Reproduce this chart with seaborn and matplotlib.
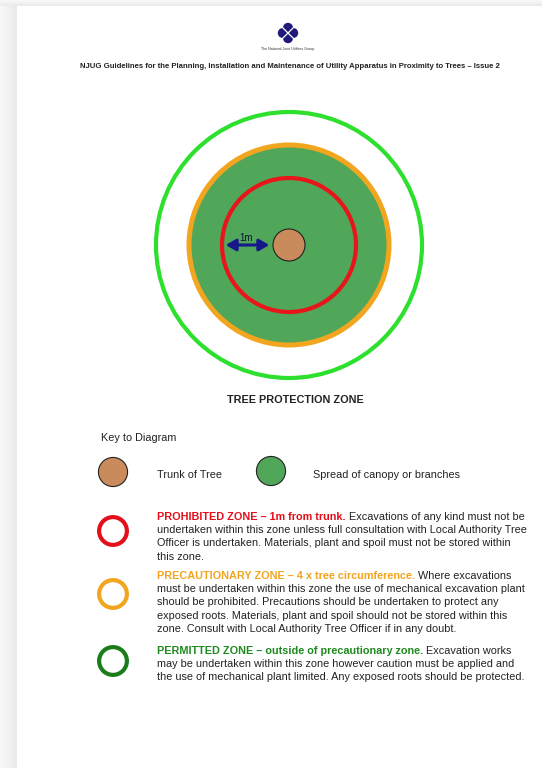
import numpy as np
import matplotlib
matplotlib.use("Agg")
import matplotlib.pyplot as plt
from matplotlib.patches import Circle, Rectangle, FancyArrowPatch
import seaborn as sns
import pandas as pd

sns.set_theme(style="white")
plt.rcParams['font.family'] = ['Liberation Sans', 'DejaVu Sans']

# ---- data ----
header_title = ("NJUG Guidelines for the Planning, Installation and Maintenance of "
                "Utility Apparatus in Proximity to Trees \u2013 Issue 2")
logo_caption = "The National Joint Utilities Group"
diagram_title = "TREE PROTECTION ZONE"
ring_names = ["Trunk", "Prohibited", "Precautionary", "Permitted"]
ring_radii = [16, 67, 100, 133]           # diagram radii (px scale)
ring_colors = ["#c98a5c", "#e8151b", "#f2a51e", "#2ee02e"]
canopy_color = "#50a659"
arrow_label = "1m"

key_title = "Key to Diagram"
key_icons = ["Trunk of Tree", "Spread of canopy or branches"]
zone_heads = ["PROHIBITED ZONE \u2013 1m from trunk.",
              "PRECAUTIONARY ZONE \u2013 4 x tree circumference.",
              "PERMITTED ZONE \u2013 outside of precautionary zone."]
zone_head_colors = ["#e3101b", "#f2a51e", "#1f8a1f"]
zone_icon_colors = ["#e3101b", "#f2a51e", "#1a7d1a"]
zone_lines = [
    [" Excavations of any kind must not be",
     "undertaken within this zone unless full consultation with Local Authority Tree",
     "Officer is undertaken. Materials, plant and spoil must not be stored within",
     "this zone."],
    [" Where excavations",
     "must be undertaken within this zone the use of mechanical excavation plant",
     "should be prohibited. Precautions should be undertaken to protect any",
     "exposed roots. Materials, plant and spoil should not be stored within this",
     "zone. Consult with Local Authority Tree Officer if in any doubt."],
    [" Excavation works",
     "may be undertaken within this zone however caution must be applied and",
     "the use of mechanical plant limited. Any exposed roots should be protected."],
]

W, H = 542, 768
fig = plt.figure(figsize=(W / 100, H / 100), dpi=100)
ax = fig.add_axes([0, 0, 1, 1])
ax.set_xlim(0, W)
ax.set_ylim(H, 0)
ax.set_aspect('auto')
ax.axis('off')

# background shadow strips
grad = np.linspace(0.975, 0.915, 64)
ax.imshow(np.tile(grad, (4, 1)), cmap='gray', vmin=0, vmax=1,
          extent=[0, 17, H, 0], aspect='auto', zorder=0)
ax.imshow(np.tile(grad, (4, 1)).T, cmap='gray', vmin=0, vmax=1,
          extent=[0, W, 6, 0], aspect='auto', zorder=0)
ax.add_patch(Rectangle((17, 6), W - 17, H - 6, facecolor='white',
                       edgecolor='none', zorder=0.5))

# logo
lx, ly = 288, 33
for dx, dy in [(0, -5.2), (0, 5.2), (-5.2, 0), (5.2, 0)]:
    ax.add_patch(Circle((lx + dx, ly + dy), 5.0, facecolor='#1f1a7a',
                        edgecolor='none', zorder=2))
ax.add_patch(Rectangle((lx - 5, ly - 5), 10, 10, facecolor='#1f1a7a',
                       edgecolor='none', zorder=2))
ax.plot([lx - 8, lx + 8], [ly - 8, ly + 8], color='white', lw=0.9, zorder=3)
ax.plot([lx - 8, lx + 8], [ly + 8, ly - 8], color='white', lw=0.9, zorder=3)
ax.text(lx, 49, logo_caption, fontsize=2.6, ha='center', va='center',
        color='#333333', zorder=3)
ax.text(290, 66, header_title, fontsize=5.6, ha='center', va='center',
        color='#222222', fontweight='bold', zorder=3)

# diagram
cx, cy = 289, 245
ax.add_patch(Circle((cx, cy), ring_radii[3], facecolor='none',
                    edgecolor=ring_colors[3], lw=3.0, zorder=2))
ax.add_patch(Circle((cx, cy), ring_radii[2], facecolor=canopy_color,
                    edgecolor=ring_colors[2], lw=3.6, zorder=2))
ax.add_patch(Circle((cx, cy), ring_radii[1], facecolor='none',
                    edgecolor=ring_colors[1], lw=3.0, zorder=3))
ax.add_patch(Circle((cx, cy), ring_radii[0], facecolor=ring_colors[0],
                    edgecolor='#222222', lw=0.8, zorder=3))
ax.add_patch(FancyArrowPatch((cx - ring_radii[1] + 1, cy), (cx - ring_radii[0] - 1, cy),
                             arrowstyle='<|-|>,head_length=6,head_width=3.5',
                             color='#17168a', lw=2.2, mutation_scale=1, zorder=4))
ax.text(cx - 43, cy - 7, arrow_label, fontsize=7, ha='center', va='center',
        color='#111133', zorder=4)
ax.text(295, 400, diagram_title, fontsize=7.8, ha='center', va='center',
        fontweight='bold', color='#222222', zorder=3)

# key
fs = 7.85
ax.text(101, 438, key_title, fontsize=fs, ha='left', va='center', color='#222222')
icons = pd.DataFrame({
    "x": [113, 271],
    "y": [472, 471],
    "kind": key_icons,
})
sns.scatterplot(data=icons, x="x", y="y", hue="kind",
                palette=[ring_colors[0], canopy_color], s=440, marker='o',
                edgecolor='#222222', linewidth=0.8, legend=False, ax=ax, zorder=3)
for xt, label in zip([157, 313], key_icons):
    ax.text(xt, 475, label, fontsize=fs, ha='left', va='center', color='#222222')

rings = pd.DataFrame({"x": [113, 113, 113], "y": [531, 594, 661],
                      "zone": zone_heads})
sns.scatterplot(data=rings, x="x", y="y", hue="zone", palette=zone_icon_colors,
                s=400, marker='o', facecolors='none', linewidth=3.0,
                legend=False, ax=ax, zorder=3)
coll = ax.collections[-1]
coll.set_edgecolors(zone_icon_colors)
coll.set_facecolors('none')

line_starts = [517, 576, 651]
step = 13.2
fig.canvas.draw()
r = fig.canvas.get_renderer()
inv = ax.transData.inverted()
for head, hcol, lines, y0 in zip(zone_heads, zone_head_colors, zone_lines, line_starts):
    t = ax.text(157, y0, head, fontsize=fs, ha='left', va='center', color=hcol,
                fontweight='bold')
    bb = t.get_window_extent(renderer=r)
    xend = inv.transform((bb.x1, bb.y0))[0]
    ax.text(xend, y0, lines[0], fontsize=fs, ha='left', va='center', color='#222222')
    for i, ln in enumerate(lines[1:], start=1):
        ax.text(157, y0 + i * step, ln, fontsize=fs, ha='left', va='center',
                color='#222222')

fig.savefig("out.png", dpi=100)
